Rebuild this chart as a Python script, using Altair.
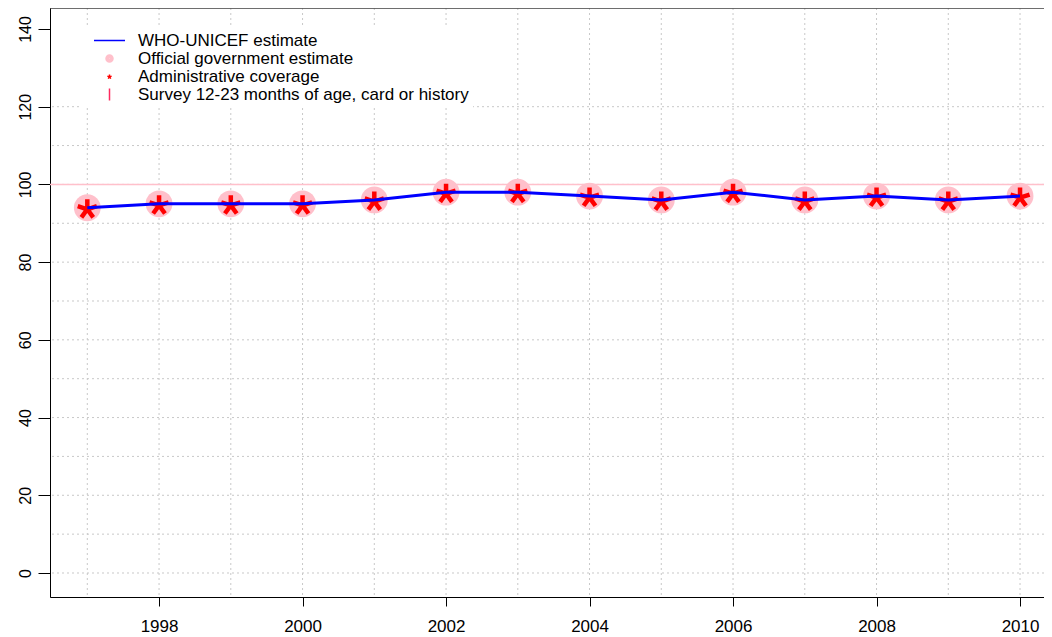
import altair as alt
import pandas as pd

# ---- data ----
years = list(range(1997, 2011))
wuenic = [94, 95, 95, 95, 96, 98, 98, 97, 96, 98, 96, 97, 96, 97]
official = [94, 95, 95, 95, 96, 98, 98, 97, 96, 98, 96, 97, 96, 97]
administrative = [94, 95, 95, 95, 96, 98, 98, 97, 96, 98, 96, 97, 96, 97]

series_names = [
    "WHO-UNICEF estimate",
    "Official government estimate",
    "Administrative coverage",
    "Survey 12-23 months of age, card or history",
]
series_colors = ["#0000ff", "#ffc0cb", "#ff0000", "#ff2a5f"]

x_ticks = [1998, 2000, 2002, 2004, 2006, 2008, 2010]
y_ticks = [0, 20, 40, 60, 80, 100, 120, 140]
grid_years = list(range(1997, 2011))
grid_levels = [0, 10, 20, 30, 40, 50, 60, 70, 80, 90, 100, 110, 120]
reference_level = [100]

# legend / marker shapes (svg paths)
LINE = "M-3.1,0H3.1"
DISC = ("M-0.2,0A0.2,0.2,0,1,0,0.2,0A0.2,0.2,0,1,0,-0.2,0"
        "M-0.45,0A0.45,0.45,0,1,0,0.45,0A0.45,0.45,0,1,0,-0.45,0"
        "M-0.7,0A0.7,0.7,0,1,0,0.7,0A0.7,0.7,0,1,0,-0.7,0")
STAR = ("M0,0.07L0,-0.38M0,0.07L0.428,-0.069M0,0.07L0.265,0.434"
        "M0,0.07L-0.265,0.434M0,0.07L-0.428,-0.069")
BAR = "M0,-1.2V1.2"
series_shapes = [LINE, DISC, STAR, BAR]

FONT = "Liberation Sans"

df_line = pd.DataFrame({"year": years, "value": wuenic})
df_gov = pd.DataFrame({"year": years, "value": official})
df_adm = pd.DataFrame({"year": years, "value": administrative, "series": series_names[2]})
df_gx = pd.DataFrame({"year": grid_years})
df_gy = pd.DataFrame({"value": grid_levels})
df_ref = pd.DataFrame({"value": reference_level})

xscale = alt.Scale(domain=[1996.48, 2010.334], nice=False, zero=False)
yscale = alt.Scale(domain=[-6.18, 145.4], nice=False, zero=False)

xaxis = alt.Axis(values=x_ticks, format="d", tickSize=9, labelPadding=25.5,
                 labelBaseline="alphabetic", labelFontSize=17, labelFont=FONT,
                 labelColor="black", domainColor="black", tickColor="black",
                 grid=False, title=None, labelFlush=False, labelOverlap=False)
yaxis = alt.Axis(values=y_ticks, tickSize=12, labelAngle=270, labelAlign="center",
                 labelBaseline="alphabetic", labelPadding=8, labelFontSize=16,
                 labelFont=FONT, labelColor="black", domainColor="black",
                 tickColor="black", grid=False, title=None, labelOverlap=False)

legend = alt.Legend(
    orient="none", legendX=30, legendY=20, title=None, fillColor="white",
    padding=4, labelFont=FONT, labelFontSize=17, labelColor="black",
    labelLimit=600, labelOffset=20, rowPadding=0, symbolSize=100,
    symbolStrokeWidth=1.5, symbolOffset=17, symbolOpacity=1,
)

color_scale = alt.Scale(domain=series_names, range=series_colors)
shape_scale = alt.Scale(domain=series_names, range=series_shapes)

grid_v = alt.Chart(df_gx).mark_rule(color="#c8c8c8", strokeDash=[2, 3], strokeWidth=1).encode(
    x=alt.X("year:Q", scale=xscale, axis=xaxis))
grid_h = alt.Chart(df_gy).mark_rule(color="#c8c8c8", strokeDash=[2, 3], strokeWidth=1).encode(
    y=alt.Y("value:Q", scale=yscale, axis=yaxis))
ref = alt.Chart(df_ref).mark_rule(color=series_colors[1], strokeWidth=1.5).encode(
    y=alt.Y("value:Q", scale=yscale))

gov = alt.Chart(df_gov).mark_circle(size=720, opacity=1, color=series_colors[1]).encode(
    x=alt.X("year:Q", scale=xscale), y=alt.Y("value:Q", scale=yscale))
adm = alt.Chart(df_adm).mark_point(filled=False, size=2000, strokeWidth=4.5, opacity=1).encode(
    x=alt.X("year:Q", scale=xscale), y=alt.Y("value:Q", scale=yscale),
    color=alt.Color("series:N", scale=color_scale, legend=legend),
    shape=alt.Shape("series:N", scale=shape_scale, legend=legend))
line = alt.Chart(df_line).mark_line(color=series_colors[0], strokeWidth=3).encode(
    x=alt.X("year:Q", scale=xscale), y=alt.Y("value:Q", scale=yscale))

# top edge of the plot box (R box(): left/bottom are the axis lines)
frame_top = alt.Chart(df_ref).mark_rule(color="black", strokeWidth=1).encode(
    y=alt.value(0))

chart = alt.layer(grid_v, grid_h, ref, gov, adm, line, frame_top).properties(
    width=994, height=589,
    autosize=alt.AutoSizeParams(type="none"),
    padding={"left": 42, "top": 0, "right": 0, "bottom": 38},
).configure_view(stroke="transparent", strokeWidth=0).configure(font=FONT, background="white")

chart.save("out.html", embed_options={"renderer": "svg", "actions": False})
